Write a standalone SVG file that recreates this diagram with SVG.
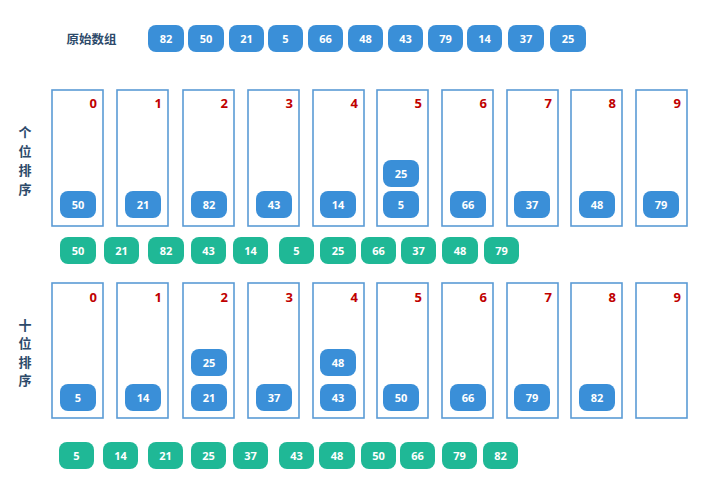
<svg xmlns="http://www.w3.org/2000/svg" width="709" height="500" viewBox="0 0 709 500">
<style>
.bg{fill:#ffffff}
.pb{fill:#3a8fd8}
.pg{fill:#1fb896}
.pt{fill:#ffffff;font-family:"Open Sans","Liberation Sans",sans-serif;font-weight:bold;font-size:11px;text-anchor:middle}
.bk{fill:none;stroke:#5b9bd5;stroke-width:1.6}
.dg{fill:#c00000;font-family:"Open Sans","Liberation Sans",sans-serif;font-weight:bold;font-size:13px;text-anchor:end}
.lb{fill:#2d4a6a;font-family:"Noto Sans CJK SC","Noto Sans",sans-serif;font-weight:bold;font-size:13px;text-anchor:middle}
</style>
<rect class="bg" x="0" y="0" width="709" height="500"/>
<g id="connectors"/>
<text class="lb" x="91.5" y="44" style="font-size:12.5px">原始数组</text>
<g id="orig">
<g id="o0"><rect class="pb" x="148" y="25" width="36" height="27" rx="8"/><text class="pt" x="166" y="42.5">82</text></g>
<g id="o1"><rect class="pb" x="188" y="25" width="36" height="27" rx="8"/><text class="pt" x="206" y="42.5">50</text></g>
<g id="o2"><rect class="pb" x="229" y="25" width="35" height="27" rx="8"/><text class="pt" x="246.5" y="42.5">21</text></g>
<g id="o3"><rect class="pb" x="268" y="25" width="35" height="27" rx="8"/><text class="pt" x="285.5" y="42.5">5</text></g>
<g id="o4"><rect class="pb" x="308" y="25" width="35" height="27" rx="8"/><text class="pt" x="325.5" y="42.5">66</text></g>
<g id="o5"><rect class="pb" x="348" y="25" width="35" height="27" rx="8"/><text class="pt" x="365.5" y="42.5">48</text></g>
<g id="o6"><rect class="pb" x="388" y="25" width="35" height="27" rx="8"/><text class="pt" x="405.5" y="42.5">43</text></g>
<g id="o7"><rect class="pb" x="428" y="25" width="35" height="27" rx="8"/><text class="pt" x="445.5" y="42.5">79</text></g>
<g id="o8"><rect class="pb" x="467" y="25" width="35" height="27" rx="8"/><text class="pt" x="484.5" y="42.5">14</text></g>
<g id="o9"><rect class="pb" x="508" y="25" width="36" height="27" rx="8"/><text class="pt" x="526" y="42.5">37</text></g>
<g id="o10"><rect class="pb" x="550" y="25" width="36" height="27" rx="8"/><text class="pt" x="568" y="42.5">25</text></g>
</g>
<g id="label1">
<text class="lb" x="25" y="136.5">个</text>
<text class="lb" x="25" y="156">位</text>
<text class="lb" x="25" y="175">排</text>
<text class="lb" x="25" y="193.5">序</text>
</g>
<g id="buckets1">
<g id="b1-0"><rect class="bk" x="52" y="90" width="51" height="136"/><text class="dg" x="97" y="108">0</text><rect class="pb" x="60" y="191" width="36" height="27" rx="8"/><text class="pt" x="78" y="208.5">50</text></g>
<g id="b1-1"><rect class="bk" x="117" y="90" width="51" height="136"/><text class="dg" x="162" y="108">1</text><rect class="pb" x="125" y="191" width="36" height="27" rx="8"/><text class="pt" x="143" y="208.5">21</text></g>
<g id="b1-2"><rect class="bk" x="183" y="90" width="51" height="136"/><text class="dg" x="228" y="108">2</text><rect class="pb" x="191" y="191" width="36" height="27" rx="8"/><text class="pt" x="209" y="208.5">82</text></g>
<g id="b1-3"><rect class="bk" x="248" y="90" width="51" height="136"/><text class="dg" x="293" y="108">3</text><rect class="pb" x="256" y="191" width="36" height="27" rx="8"/><text class="pt" x="274" y="208.5">43</text></g>
<g id="b1-4"><rect class="bk" x="313" y="90" width="51" height="136"/><text class="dg" x="358" y="108">4</text><rect class="pb" x="320" y="191" width="36" height="27" rx="8"/><text class="pt" x="338" y="208.5">14</text></g>
<g id="b1-5"><rect class="bk" x="377" y="90" width="51" height="136"/><text class="dg" x="422" y="108">5</text><rect class="pb" x="383" y="160" width="36" height="27" rx="8"/><text class="pt" x="401" y="177.5">25</text><rect class="pb" x="383" y="191" width="36" height="27" rx="8"/><text class="pt" x="401" y="208.5">5</text></g>
<g id="b1-6"><rect class="bk" x="442" y="90" width="51" height="136"/><text class="dg" x="487" y="108">6</text><rect class="pb" x="450" y="191" width="36" height="27" rx="8"/><text class="pt" x="468" y="208.5">66</text></g>
<g id="b1-7"><rect class="bk" x="507" y="90" width="51" height="136"/><text class="dg" x="552" y="108">7</text><rect class="pb" x="514" y="191" width="36" height="27" rx="8"/><text class="pt" x="532" y="208.5">37</text></g>
<g id="b1-8"><rect class="bk" x="571" y="90" width="51" height="136"/><text class="dg" x="616" y="108">8</text><rect class="pb" x="579" y="191" width="36" height="27" rx="8"/><text class="pt" x="597" y="208.5">48</text></g>
<g id="b1-9"><rect class="bk" x="636" y="90" width="51" height="136"/><text class="dg" x="681" y="108">9</text><rect class="pb" x="643" y="191" width="36" height="27" rx="8"/><text class="pt" x="661" y="208.5">79</text></g>
</g>
<g id="pass1">
<g><rect class="pg" x="60" y="237" width="36" height="27" rx="8"/><text class="pt" x="78" y="254.5">50</text></g>
<g><rect class="pg" x="104" y="237" width="35" height="27" rx="8"/><text class="pt" x="121.5" y="254.5">21</text></g>
<g><rect class="pg" x="148" y="237" width="36" height="27" rx="8"/><text class="pt" x="166" y="254.5">82</text></g>
<g><rect class="pg" x="191" y="237" width="35" height="27" rx="8"/><text class="pt" x="208.5" y="254.5">43</text></g>
<g><rect class="pg" x="233" y="237" width="35" height="27" rx="8"/><text class="pt" x="250.5" y="254.5">14</text></g>
<g><rect class="pg" x="279" y="237" width="35" height="27" rx="8"/><text class="pt" x="296.5" y="254.5">5</text></g>
<g><rect class="pg" x="320" y="237" width="36" height="27" rx="8"/><text class="pt" x="338" y="254.5">25</text></g>
<g><rect class="pg" x="361" y="237" width="35" height="27" rx="8"/><text class="pt" x="378.5" y="254.5">66</text></g>
<g><rect class="pg" x="401" y="237" width="35" height="27" rx="8"/><text class="pt" x="418.5" y="254.5">37</text></g>
<g><rect class="pg" x="442" y="237" width="36" height="27" rx="8"/><text class="pt" x="460" y="254.5">48</text></g>
<g><rect class="pg" x="484" y="237" width="35" height="27" rx="8"/><text class="pt" x="501.5" y="254.5">79</text></g>
</g>
<g id="label2">
<text class="lb" x="25" y="330">十</text>
<text class="lb" x="25" y="348">位</text>
<text class="lb" x="25" y="367">排</text>
<text class="lb" x="25" y="385">序</text>
</g>
<g id="buckets2">
<g id="b2-0"><rect class="bk" x="52" y="283" width="51" height="135"/><text class="dg" x="97" y="302">0</text><rect class="pb" x="60" y="384" width="36" height="27" rx="8"/><text class="pt" x="78" y="401.5">5</text></g>
<g id="b2-1"><rect class="bk" x="117" y="283" width="51" height="135"/><text class="dg" x="162" y="302">1</text><rect class="pb" x="125" y="384" width="36" height="27" rx="8"/><text class="pt" x="143" y="401.5">14</text></g>
<g id="b2-2"><rect class="bk" x="183" y="283" width="51" height="135"/><text class="dg" x="228" y="302">2</text><rect class="pb" x="191" y="349" width="36" height="27" rx="8"/><text class="pt" x="209" y="366.5">25</text><rect class="pb" x="191" y="384" width="36" height="27" rx="8"/><text class="pt" x="209" y="401.5">21</text></g>
<g id="b2-3"><rect class="bk" x="248" y="283" width="51" height="135"/><text class="dg" x="293" y="302">3</text><rect class="pb" x="256" y="384" width="36" height="27" rx="8"/><text class="pt" x="274" y="401.5">37</text></g>
<g id="b2-4"><rect class="bk" x="313" y="283" width="51" height="135"/><text class="dg" x="358" y="302">4</text><rect class="pb" x="320" y="349" width="36" height="27" rx="8"/><text class="pt" x="338" y="366.5">48</text><rect class="pb" x="320" y="384" width="36" height="27" rx="8"/><text class="pt" x="338" y="401.5">43</text></g>
<g id="b2-5"><rect class="bk" x="377" y="283" width="51" height="135"/><text class="dg" x="422" y="302">5</text><rect class="pb" x="383" y="384" width="36" height="27" rx="8"/><text class="pt" x="401" y="401.5">50</text></g>
<g id="b2-6"><rect class="bk" x="442" y="283" width="51" height="135"/><text class="dg" x="487" y="302">6</text><rect class="pb" x="450" y="384" width="36" height="27" rx="8"/><text class="pt" x="468" y="401.5">66</text></g>
<g id="b2-7"><rect class="bk" x="507" y="283" width="51" height="135"/><text class="dg" x="552" y="302">7</text><rect class="pb" x="514" y="384" width="36" height="27" rx="8"/><text class="pt" x="532" y="401.5">79</text></g>
<g id="b2-8"><rect class="bk" x="571" y="283" width="51" height="135"/><text class="dg" x="616" y="302">8</text><rect class="pb" x="579" y="384" width="36" height="27" rx="8"/><text class="pt" x="597" y="401.5">82</text></g>
<g id="b2-9"><rect class="bk" x="636" y="283" width="51" height="135"/><text class="dg" x="681" y="302">9</text></g>
</g>
<g id="pass2">
<g><rect class="pg" x="59" y="442" width="35" height="27" rx="8"/><text class="pt" x="76.5" y="459.5">5</text></g>
<g><rect class="pg" x="103" y="442" width="35" height="27" rx="8"/><text class="pt" x="120.5" y="459.5">14</text></g>
<g><rect class="pg" x="148" y="442" width="35" height="27" rx="8"/><text class="pt" x="165.5" y="459.5">21</text></g>
<g><rect class="pg" x="191" y="442" width="35" height="27" rx="8"/><text class="pt" x="208.5" y="459.5">25</text></g>
<g><rect class="pg" x="233" y="442" width="35" height="27" rx="8"/><text class="pt" x="250.5" y="459.5">37</text></g>
<g><rect class="pg" x="279" y="442" width="35" height="27" rx="8"/><text class="pt" x="296.5" y="459.5">43</text></g>
<g><rect class="pg" x="319" y="442" width="36" height="27" rx="8"/><text class="pt" x="337" y="459.5">48</text></g>
<g><rect class="pg" x="361" y="442" width="35" height="27" rx="8"/><text class="pt" x="378.5" y="459.5">50</text></g>
<g><rect class="pg" x="400" y="442" width="35" height="27" rx="8"/><text class="pt" x="417.5" y="459.5">66</text></g>
<g><rect class="pg" x="442" y="442" width="35" height="27" rx="8"/><text class="pt" x="459.5" y="459.5">79</text></g>
<g><rect class="pg" x="483" y="442" width="35" height="27" rx="8"/><text class="pt" x="500.5" y="459.5">82</text></g>
</g>
</svg>
